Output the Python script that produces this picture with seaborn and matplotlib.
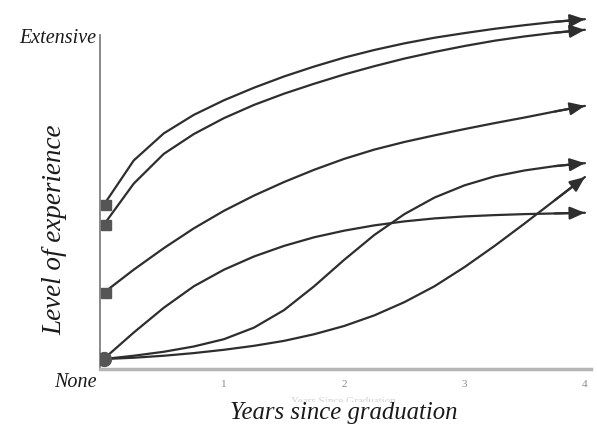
import matplotlib
matplotlib.use('Agg')

import matplotlib.pyplot as plt
import numpy as np
import pandas as pd
import seaborn as sns

# years since graduation, sampled every quarter year
years = [0, 0.25, 0.5, 0.75, 1, 1.25, 1.5, 1.75, 2,
         2.25, 2.5, 2.75, 3, 3.25, 3.5, 3.75, 4]

# level of experience (0 = None, 10 = Extensive)
curve_a = [4.95, 6.3, 7.12, 7.68, 8.12, 8.5, 8.84, 9.14, 9.41,
           9.64, 9.84, 10.01, 10.15, 10.28, 10.39, 10.49, 10.57]
curve_b = [4.35, 5.6, 6.5, 7.1, 7.58, 7.98, 8.32, 8.62, 8.9,
           9.15, 9.38, 9.58, 9.76, 9.92, 10.05, 10.16, 10.25]
curve_c = [2.3, 3.0, 3.65, 4.25, 4.78, 5.24, 5.65, 6.02, 6.35,
           6.63, 6.86, 7.06, 7.25, 7.43, 7.6, 7.78, 7.95]
curve_d = [0.3, 1.1, 1.85, 2.5, 3.0, 3.4, 3.72, 3.98, 4.18,
           4.34, 4.46, 4.55, 4.61, 4.65, 4.68, 4.7, 4.72]
curve_e = [0.3, 0.4, 0.52, 0.68, 0.9, 1.25, 1.78, 2.5, 3.3,
           4.05, 4.68, 5.18, 5.55, 5.82, 6.0, 6.13, 6.22]
curve_f = [0.3, 0.34, 0.4, 0.48, 0.58, 0.7, 0.85, 1.05, 1.3,
           1.62, 2.02, 2.5, 3.08, 3.72, 4.4, 5.1, 5.8]

curves = {'a': curve_a, 'b': curve_b, 'c': curve_c,
          'd': curve_d, 'e': curve_e, 'f': curve_f}
start_marker = {'a': 's', 'b': 's', 'c': 's', 'd': 'o', 'e': 'o', 'f': 'o'}

tick_years = [1, 2, 3, 4]

data = pd.DataFrame([
    {'curve': k, 'year': x, 'level': y}
    for k, vals in curves.items() for x, y in zip(years, vals)
])

sns.set_theme(style='white')
plt.rcParams['font.family'] = ['Liberation Serif', 'DejaVu Serif']

line_color = '#2e2e2e'
fig = plt.figure(figsize=(5.97, 4.28), dpi=100)
ax = fig.add_axes([0.1675, 0.1379, 0.8223, 0.8505])

sns.lineplot(data=data, x='year', y='level', units='curve', estimator=None,
             color=line_color, linewidth=1.6, ax=ax)

for k, vals in curves.items():
    ax.annotate('', xy=(years[-1], vals[-1]), xytext=(years[-2], vals[-2]),
                arrowprops=dict(arrowstyle='-|>,head_length=0.75,head_width=0.32',
                                color=line_color, lw=1.6,
                                shrinkA=0, shrinkB=0))
    if start_marker[k] == 's':
        ax.plot(years[0] + 0.02, vals[0], marker='s', markersize=7,
                color='#555555', zorder=5)

ax.plot(years[0], curve_d[0], marker='o', markersize=10,
        color='#555555', zorder=5)

ax.set_xlim(-0.03, 4.05)
ax.set_ylim(0, 11)
ax.set_xticks(tick_years)
ax.set_xticklabels([str(t) for t in tick_years], fontsize=8, color='#8a8a8a')
ax.set_yticks([])
ax.tick_params(axis='x', length=0, pad=8)

for side in ['top', 'right']:
    ax.spines[side].set_visible(False)
ax.spines['left'].set_bounds(0, 10.1)
ax.spines['left'].set_color('#808080')
ax.spines['left'].set_linewidth(1.3)
ax.spines['bottom'].set_color('#b5b5b5')
ax.spines['bottom'].set_linewidth(2.5)

ax.set_xlabel('')
ax.set_ylabel('')

ax.text(-0.06, 10.0, 'Extensive', transform=ax.transData, ha='right',
        va='center', fontsize=14.5, style='italic', color='#1a1a1a')
ax.text(-0.06, -0.42, 'None', transform=ax.transData, ha='right',
        va='center', fontsize=14.5, style='italic', color='#1a1a1a')

# faint ghost label left over in the original image
fig.text(0.575, 0.063, 'Years Since Graduation', ha='center', va='center',
         fontsize=8, color='#d2d2d2')
fig.text(0.575, 0.036, 'Years since graduation', ha='center', va='center',
         fontsize=17.8, style='italic', color='#1a1a1a',
         bbox=dict(facecolor='white', edgecolor='none', pad=0))
fig.text(0.092, 0.463, 'Level of experience', ha='center', va='center',
         rotation=90, fontsize=19.5, style='italic', color='#1a1a1a')

plt.savefig('out.png', dpi=100)
